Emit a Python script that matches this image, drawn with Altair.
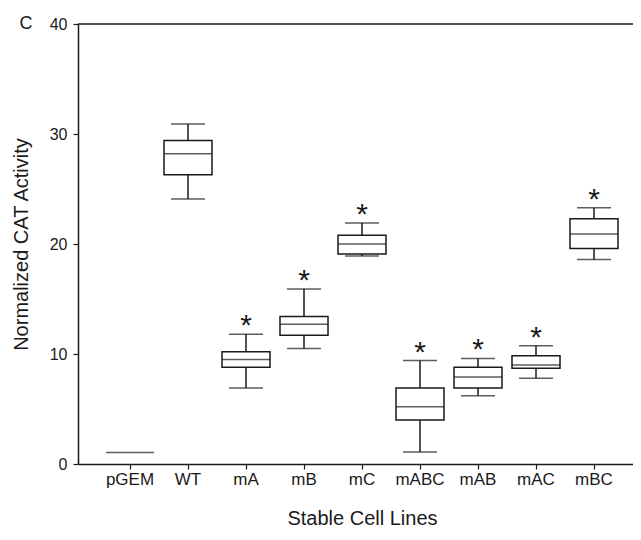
import altair as alt
import pandas as pd

cats = ["pGEM", "WT", "mA", "mB", "mC", "mABC", "mAB", "mAC", "mBC"]
whisker_low = [1.05, 24.1, 6.9, 10.5, 18.9, 1.1, 6.2, 7.8, 18.6]
q1 = [1.05, 26.3, 8.8, 11.7, 19.1, 4.0, 6.9, 8.7, 19.6]
median = [1.05, 28.2, 9.5, 12.7, 20.0, 5.2, 7.9, 9.0, 20.9]
q3 = [1.05, 29.4, 10.2, 13.4, 20.8, 6.9, 8.8, 9.85, 22.3]
whisker_high = [1.05, 30.9, 11.8, 15.9, 21.9, 9.4, 9.6, 10.75, 23.3]
stars = ["", "", "*", "*", "*", "*", "*", "*", "*"]
y_ticks = [0, 10, 20, 30, 40]

df = pd.DataFrame({
    "cat": cats, "lo": whisker_low, "q1": q1, "med": median,
    "q3": q3, "hi": whisker_high, "star": stars,
})
box_df = df[df["cat"] != "pGEM"]
star_df = df[df["star"] != ""]
one_df = pd.DataFrame({"k": [0]})

FONT = "Liberation Sans"
INK = "#1a1a1a"

x_enc = alt.X(
    "cat:N", sort=cats,
    scale=alt.Scale(paddingInner=0, paddingOuter=0.2845, align=0.697),
    title="Stable Cell Lines",
    axis=alt.Axis(labelAngle=0, titleX=284, titleY=54,
                  titleBaseline="middle", titleAlign="center"),
)
y_scale = alt.Scale(domain=[0, 40], nice=False, zero=True)
y_enc_lo = alt.Y(
    "lo:Q", scale=y_scale, title="Normalized CAT Activity",
    axis=alt.Axis(values=y_ticks, titleX=-47, titleY=220, titleAngle=-90,
                  titleBaseline="bottom", titleAlign="center"),
)

whisker = alt.Chart(box_df).mark_rule(color=INK, strokeWidth=1.5).encode(
    x=x_enc, y=y_enc_lo, y2="hi:Q",
)
box = alt.Chart(box_df).mark_bar(
    size=48, fill="white", stroke=INK, strokeWidth=1.5
).encode(x=x_enc, y=alt.Y("q1:Q", scale=y_scale), y2="q3:Q")
med = alt.Chart(df).mark_tick(size=48, thickness=1.5, color=INK).encode(
    x=x_enc, y=alt.Y("med:Q", scale=y_scale)
)
cap_lo = alt.Chart(box_df).mark_tick(size=34, thickness=1.5, color=INK).encode(
    x=x_enc, y=alt.Y("lo:Q", scale=y_scale)
)
cap_hi = alt.Chart(box_df).mark_tick(size=34, thickness=1.5, color=INK).encode(
    x=x_enc, y=alt.Y("hi:Q", scale=y_scale)
)
star = alt.Chart(star_df).mark_text(
    font=FONT, fontSize=30, color=INK, baseline="alphabetic", dy=1
).encode(x=x_enc, y=alt.Y("hi:Q", scale=y_scale), text="star:N")

top_line = alt.Chart(one_df).mark_rule(color=INK, strokeWidth=1.5).encode(
    y=alt.datum(40)
)
panel = alt.Chart(one_df).mark_text(
    text="C", font=FONT, fontSize=18, color=INK, align="center",
    baseline="middle"
).encode(x=alt.value(-52), y=alt.value(0))

chart = alt.layer(
    top_line, whisker, box, med, cap_lo, cap_hi, star, panel
).properties(
    width=555, height=440,
    autosize=alt.AutoSizeParams(type="none"),
    padding={"left": 70, "top": 16, "right": 0, "bottom": 68},
).configure_view(stroke=None).configure_axis(
    grid=False, labelFont=FONT, labelFontSize=16, labelColor=INK,
    tickSize=5, tickColor=INK, tickWidth=1.2,
    domainColor=INK, domainWidth=1.5,
    titleFont=FONT, titleFontSize=20, titleFontWeight="normal",
    titleColor=INK,
).configure_axisX(labelPadding=2, labelFontSize=17).configure_axisY(
    labelPadding=6, labelFontSize=16
)

chart.save("out.html", embed_options={"renderer": "svg", "actions": False})
